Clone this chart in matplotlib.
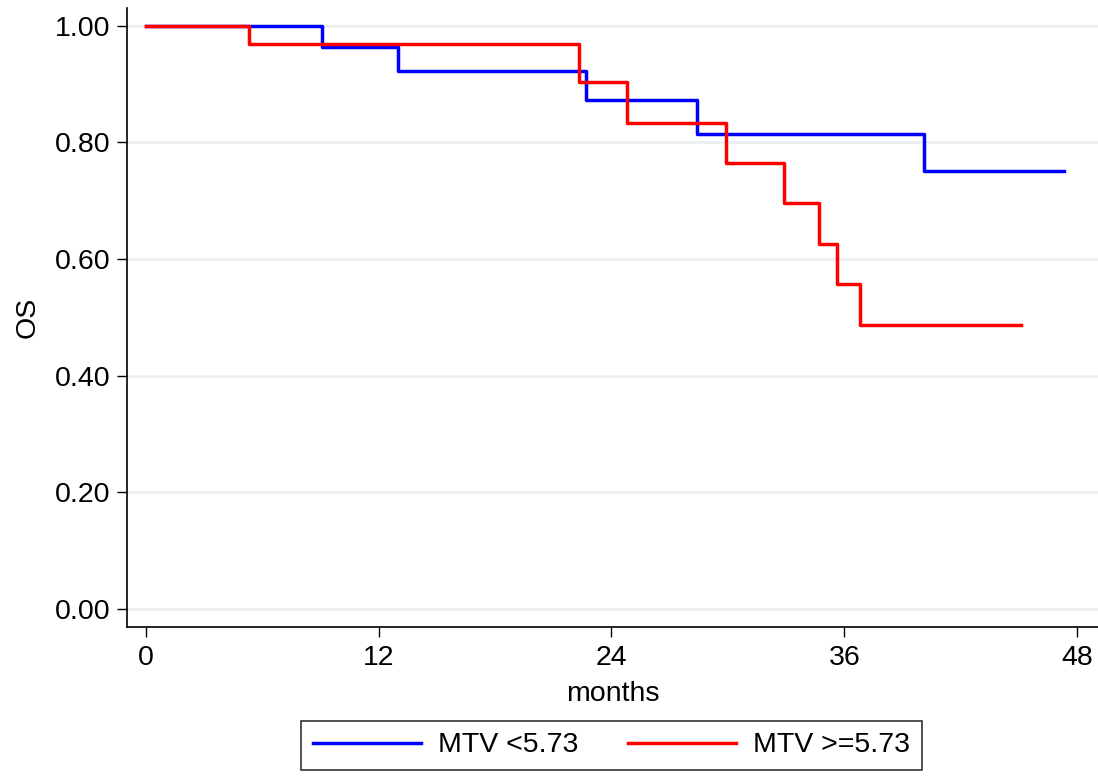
import numpy as np
import matplotlib.pyplot as plt
from matplotlib.lines import Line2D

plt.rcParams['font.family'] = ['Liberation Sans', 'DejaVu Sans']

# Kaplan-Meier estimates: event times (months) and survival after each step
low_times = [0, 9.1, 13.0, 22.7, 28.4, 40.1, 47.3]
low_surv = [1.000, 0.963, 0.923, 0.872, 0.814, 0.751, 0.751]

high_times = [0, 5.3, 22.3, 24.8, 29.9, 32.9, 34.7, 35.6, 36.8, 45.1]
high_surv = [1.000, 0.968, 0.904, 0.834, 0.765, 0.696, 0.626, 0.557, 0.487, 0.487]

labels = ['MTV <5.73', 'MTV >=5.73']
xticks = [0, 12, 24, 36, 48]
yticks = [0.0, 0.2, 0.4, 0.6, 0.8, 1.0]

fs = 20.5

fig = plt.figure(figsize=(10.98, 7.76), dpi=100)
ax = fig.add_axes([0.1157, 0.192, 0.8843, 0.7977])

for t in yticks:
    ax.axhline(t, color='#eaf0f2', lw=2, zorder=0)

ax.step(low_times, low_surv, where='post', color='#0000ff', lw=2.5)
ax.step(high_times, high_surv, where='post', color='#ff0000', lw=2.5)

ax.set_xlim(-0.964, 49.07)
ax.set_ylim(-0.0309, 1.0304)
ax.set_xticks(xticks)
ax.set_yticks(yticks)
ax.set_yticklabels(['%.2f' % v for v in yticks])
ax.tick_params(labelsize=fs, length=7, width=1, color='black')
ax.tick_params(axis='x', pad=6)
ax.tick_params(axis='y', pad=5)

for s in ['top', 'right']:
    ax.spines[s].set_visible(False)
for s in ['left', 'bottom']:
    ax.spines[s].set_linewidth(1.2)

ax.set_xlabel('months', fontsize=fs, labelpad=7)
ax.set_ylabel('OS', fontsize=fs, labelpad=10.5)

handles = [Line2D([], [], color='#0000ff', lw=2.5),
           Line2D([], [], color='#ff0000', lw=2.5)]
leg = fig.legend(handles, labels, loc='center', ncol=2,
                 bbox_to_anchor=(611.5 / 1098, 1 - 745.5 / 776),
                 fontsize=fs, frameon=True, fancybox=False,
                 edgecolor='black', handlelength=3.8, handletextpad=0.6,
                 columnspacing=1.75, borderpad=0.42, borderaxespad=0)
leg.get_frame().set_linewidth(1.2)

fig.savefig('out.png', dpi=100)
